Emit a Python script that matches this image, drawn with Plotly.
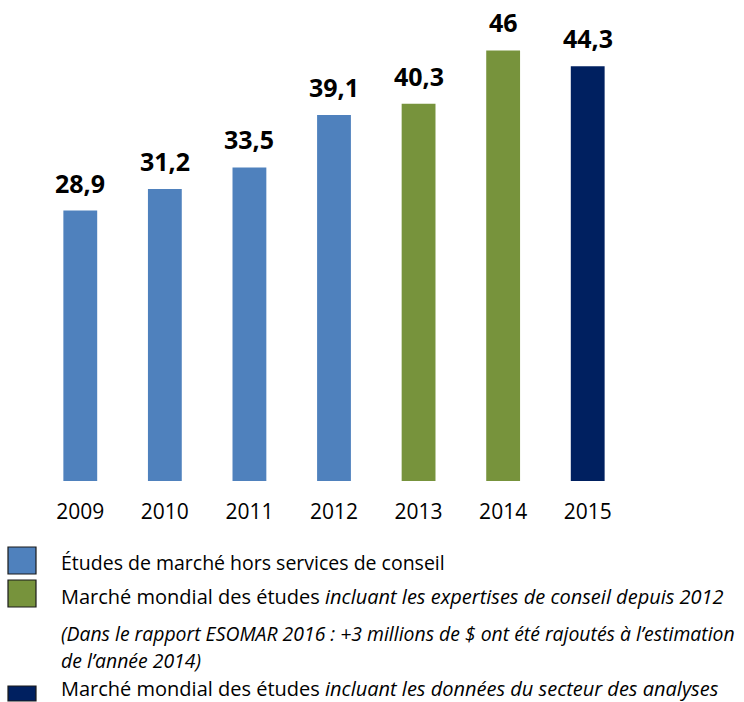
import plotly.graph_objects as go

# ---- data ----
years_hors_conseil = [2009, 2010, 2011, 2012]
values_hors_conseil = [28.9, 31.2, 33.5, 39.1]
years_expertises = [2013, 2014]
values_expertises = [40.3, 46]
years_analyses = [2015]
values_analyses = [44.3]
all_years = [2009, 2010, 2011, 2012, 2013, 2014, 2015]
year_labels = ["2009", "2010", "2011", "2012", "2013", "2014", "2015"]

COL_BLUE = "#4F81BD"
COL_GREEN = "#77933C"
COL_NAVY = "#002060"
FONT = "'Open Sans', Lato, sans-serif"

W, H = 744, 702
L, R, T, B = 38, 114, 13, 221
PW, PH = W - L - R, H - T - B


def px(x):
    return (x - L) / PW


def py(y):
    return (H - B - y) / PH


fig = go.Figure()
for xs, ys, col, name in [
    (years_hors_conseil, values_hors_conseil, COL_BLUE, "hors conseil"),
    (years_expertises, values_expertises, COL_GREEN, "expertises"),
    (years_analyses, values_analyses, COL_NAVY, "analyses"),
]:
    fig.add_trace(go.Bar(x=xs, y=ys, width=0.4,
                         marker=dict(color=col, line=dict(width=0)),
                         name=name, showlegend=False, hoverinfo="x+y"))
    for x, y in zip(xs, ys):
        fig.add_annotation(x=x, y=y, xref="x", yref="y", yanchor="bottom",
                           yshift=9, showarrow=False,
                           text="<b>" + str(y).replace(".", ",") + "</b>",
                           font=dict(family=FONT, size=25, color="black"))

# legend squares
for top, col in [(547, COL_BLUE), (580, COL_GREEN), (686, COL_NAVY)]:
    fig.add_shape(type="rect", xref="paper", yref="paper",
                  x0=px(8), x1=px(36), y0=py(top), y1=py(min(top + 27, H - 1)),
                  fillcolor=col, line=dict(color="#1a1a1a", width=1.2))

legend_lines = [
    (562, 19.5, "Études de marché hors services de conseil"),
    (596, 20, "Marché mondial des études <i>incluant les expertises de conseil depuis 2012</i>"),
    (633, 19.4, "<i>(Dans le rapport ESOMAR 2016 : +3 millions de $ ont été rajoutés à l’estimation</i>"),
    (660, 19.4, "<i>de l’année 2014)</i>"),
    (688, 20, "Marché mondial des études <i>incluant les données du secteur des analyses</i>"),
]
for yc, fs, txt in legend_lines:
    fig.add_annotation(x=px(59), y=py(yc), xref="paper", yref="paper",
                       xanchor="left", yanchor="middle", showarrow=False,
                       text=txt, font=dict(family=FONT, size=fs, color="black"))

fig.update_layout(
    width=W, height=H,
    margin=dict(l=L, r=R, t=T, b=B),
    paper_bgcolor="white", plot_bgcolor="white",
    barmode="overlay",
    font=dict(family=FONT, color="black"),
    xaxis=dict(range=[2008.5, 2015.5], tickmode="array",
               tickvals=all_years, ticktext=year_labels,
               showgrid=False, zeroline=False, showline=False,
               ticks="outside", ticklen=12, tickcolor="rgba(0,0,0,0)",
               tickfont=dict(family=FONT, size=21, color="black")),
    yaxis=dict(range=[0, 50], visible=False, showgrid=False, zeroline=False),
)

fig.write_html("out.html")
